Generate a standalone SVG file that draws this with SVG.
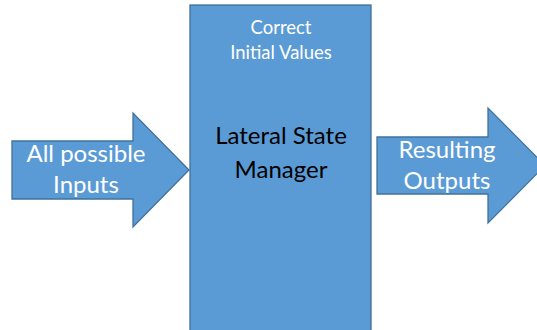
<svg xmlns="http://www.w3.org/2000/svg" width="537" height="330" viewBox="0 0 537 330">
  <style>
    .shape { fill: #5B9BD5; stroke: #41719C; stroke-width: 1.3; }
    .lbl { font-family: Lato, "Open Sans", "DejaVu Sans", sans-serif; text-anchor: middle; }
    .white { fill: #FFFFFF; }
    .dark { fill: #000000; }
  </style>
  <rect width="537" height="330" fill="#FFFFFF"/>

  <!-- input arrow -->
  <g id="inputs">
    <polygon class="shape" points="12,141 133,141 133,113 189,170 133,227 133,199 12,199"/>
    <text class="lbl white" font-size="24" x="86" y="162">All possible</text>
    <text class="lbl white" font-size="24" x="86" y="193">Inputs</text>
  </g>

  <!-- central manager block -->
  <g id="manager">
    <rect class="shape" x="190" y="5" width="181" height="330"/>
    <text class="lbl white" font-size="18.5" x="281" y="34">Correct</text>
    <text class="lbl white" font-size="18.5" x="281" y="59">Initial Values</text>
    <text class="lbl dark" font-size="24" x="281" y="144">Lateral State</text>
    <text class="lbl dark" font-size="24" x="281" y="178">Manager</text>
  </g>

  <!-- output arrow -->
  <g id="outputs">
    <polygon class="shape" points="377,137 488,137 488,108 545,165.5 488,223 488,194 377,194"/>
    <text class="lbl white" font-size="24" x="447" y="158">Resulting</text>
    <text class="lbl white" font-size="24" x="447" y="189">Outputs</text>
  </g>

  <g id="connectors"></g>
</svg>
